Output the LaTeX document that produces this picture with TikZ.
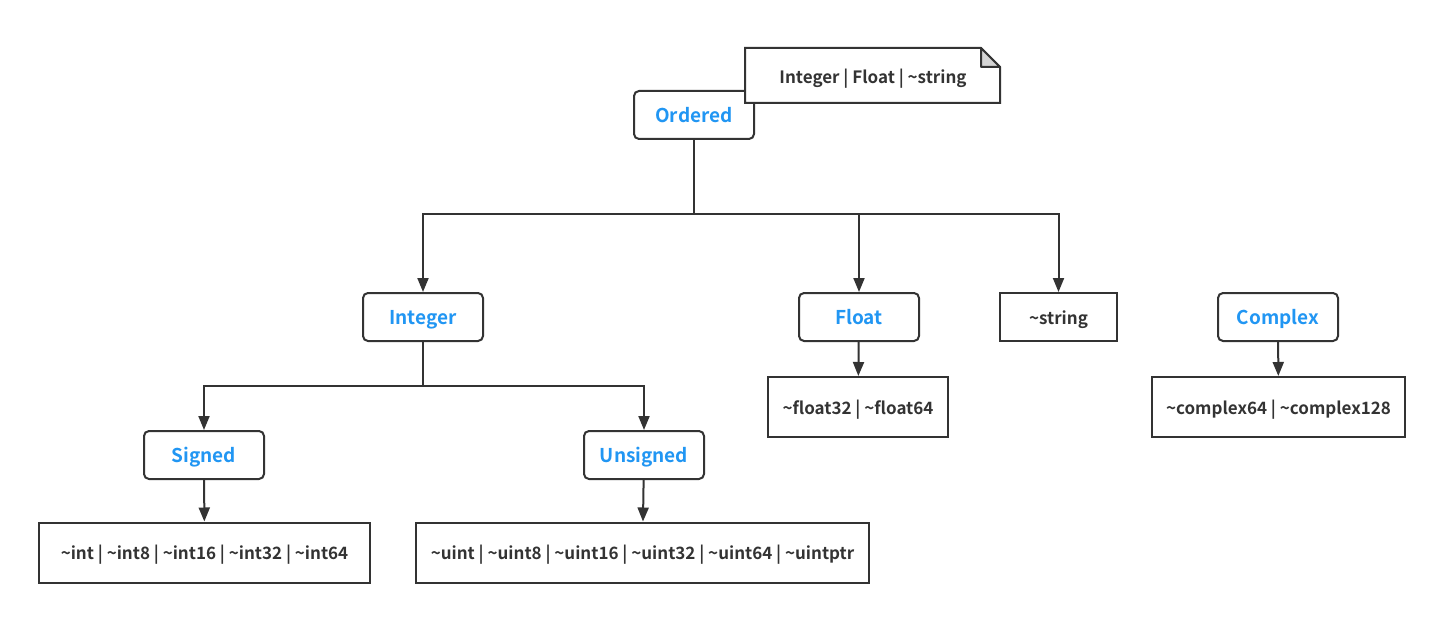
\documentclass[tikz,border=0pt]{standalone}
\usepackage{fontspec}
\setmainfont{Noto Sans CJK SC}[BoldFont={Noto Sans CJK SC Bold}]
\usetikzlibrary{arrows.meta}
\definecolor{edgegray}{HTML}{333333}
\definecolor{cblue}{HTML}{2196F3}
\definecolor{foldgray}{HTML}{D4D4D4}
\tikzset{
  iface/.style={draw=edgegray, line width=1pt, rounded corners=2.5pt, fill=white, inner sep=0pt,
    minimum width=60pt, minimum height=24pt, text=cblue, text height=0.73em, text depth=0pt,
    font=\fontsize{9.5}{11}\selectfont\bfseries},
  tset/.style={draw=edgegray, line width=1pt, fill=white, inner sep=0pt,
    minimum height=30pt, text=edgegray, text height=0.73em, text depth=0pt,
    font=\fontsize{8.5}{10}\selectfont\bfseries},
  arr/.style={draw=edgegray, line width=1pt, -{Triangle[length=7pt,width=5.5pt]}},
  link/.style={draw=edgegray, line width=1pt}
}
\begin{document}
\begin{tikzpicture}[x=0.5pt, y=-0.5pt]
\useasboundingbox (0,0) rectangle (1444,620);
% constraint boxes
\node[iface] (ordered) at (694,115) {Ordered};
\node[iface] (integer) at (423,317) {Integer};
\node[iface] (float) at (859,317) {Float};
\node[tset, minimum width=58.5pt, minimum height=24pt] (string) at (1058.5,317) {\textasciitilde string};
\node[iface] (complex) at (1278,317) {Complex};
\node[iface] (signed) at (204,455) {Signed};
\node[iface] (unsigned) at (644,455) {Unsigned};
% type sets
\node[tset, minimum width=90pt] (floats) at (858,407) {\textasciitilde float32 | \textasciitilde float64};
\node[tset, minimum width=126.5pt] (complexes) at (1278.5,407) {\textasciitilde complex64 | \textasciitilde complex128};
\node[tset, minimum width=165.5pt] (ints) at (204.5,552.5) {\textasciitilde int | \textasciitilde int8 | \textasciitilde int16 | \textasciitilde int32 | \textasciitilde int64};
\node[tset, minimum width=226.5pt] (uints) at (642.5,552.5) {\textasciitilde uint | \textasciitilde uint8 | \textasciitilde uint16 | \textasciitilde uint32 | \textasciitilde uint64 | \textasciitilde uintptr};
% note on Ordered
\coordinate (note) at (873,76);
\draw[edgegray, line width=1pt, fill=white] (745,48) -- (981,48) -- (1000,67) -- (1000,103) -- (745,103) -- cycle;
\draw[edgegray, line width=1pt, fill=foldgray, line join=round] (981,48) -- (981,67) -- (1000,67) -- cycle;
\node[text=edgegray, inner sep=0pt, text height=0.73em, text depth=0pt, font=\fontsize{8.5}{10}\selectfont\bfseries] (notetext) at (note) {Integer | Float | \textasciitilde string};
% branches
\coordinate (ojoin) at (694,214);
\coordinate (ijoin) at (423,386);
\draw[link] (ordered) -- (ojoin);
\draw[arr] (ojoin) -| (integer);
\draw[arr] (ojoin) -| (float);
\draw[arr] (ojoin) -| (string);
\draw[link] (integer) -- (ijoin);
\draw[arr] (ijoin) -| (signed);
\draw[arr] (ijoin) -| (unsigned);
\draw[arr] (signed) -- (ints);
\draw[arr] (unsigned) -- (uints);
\draw[arr] (float) -- (floats);
\draw[arr] (complex) -- (complexes);
\end{tikzpicture}
\end{document}
